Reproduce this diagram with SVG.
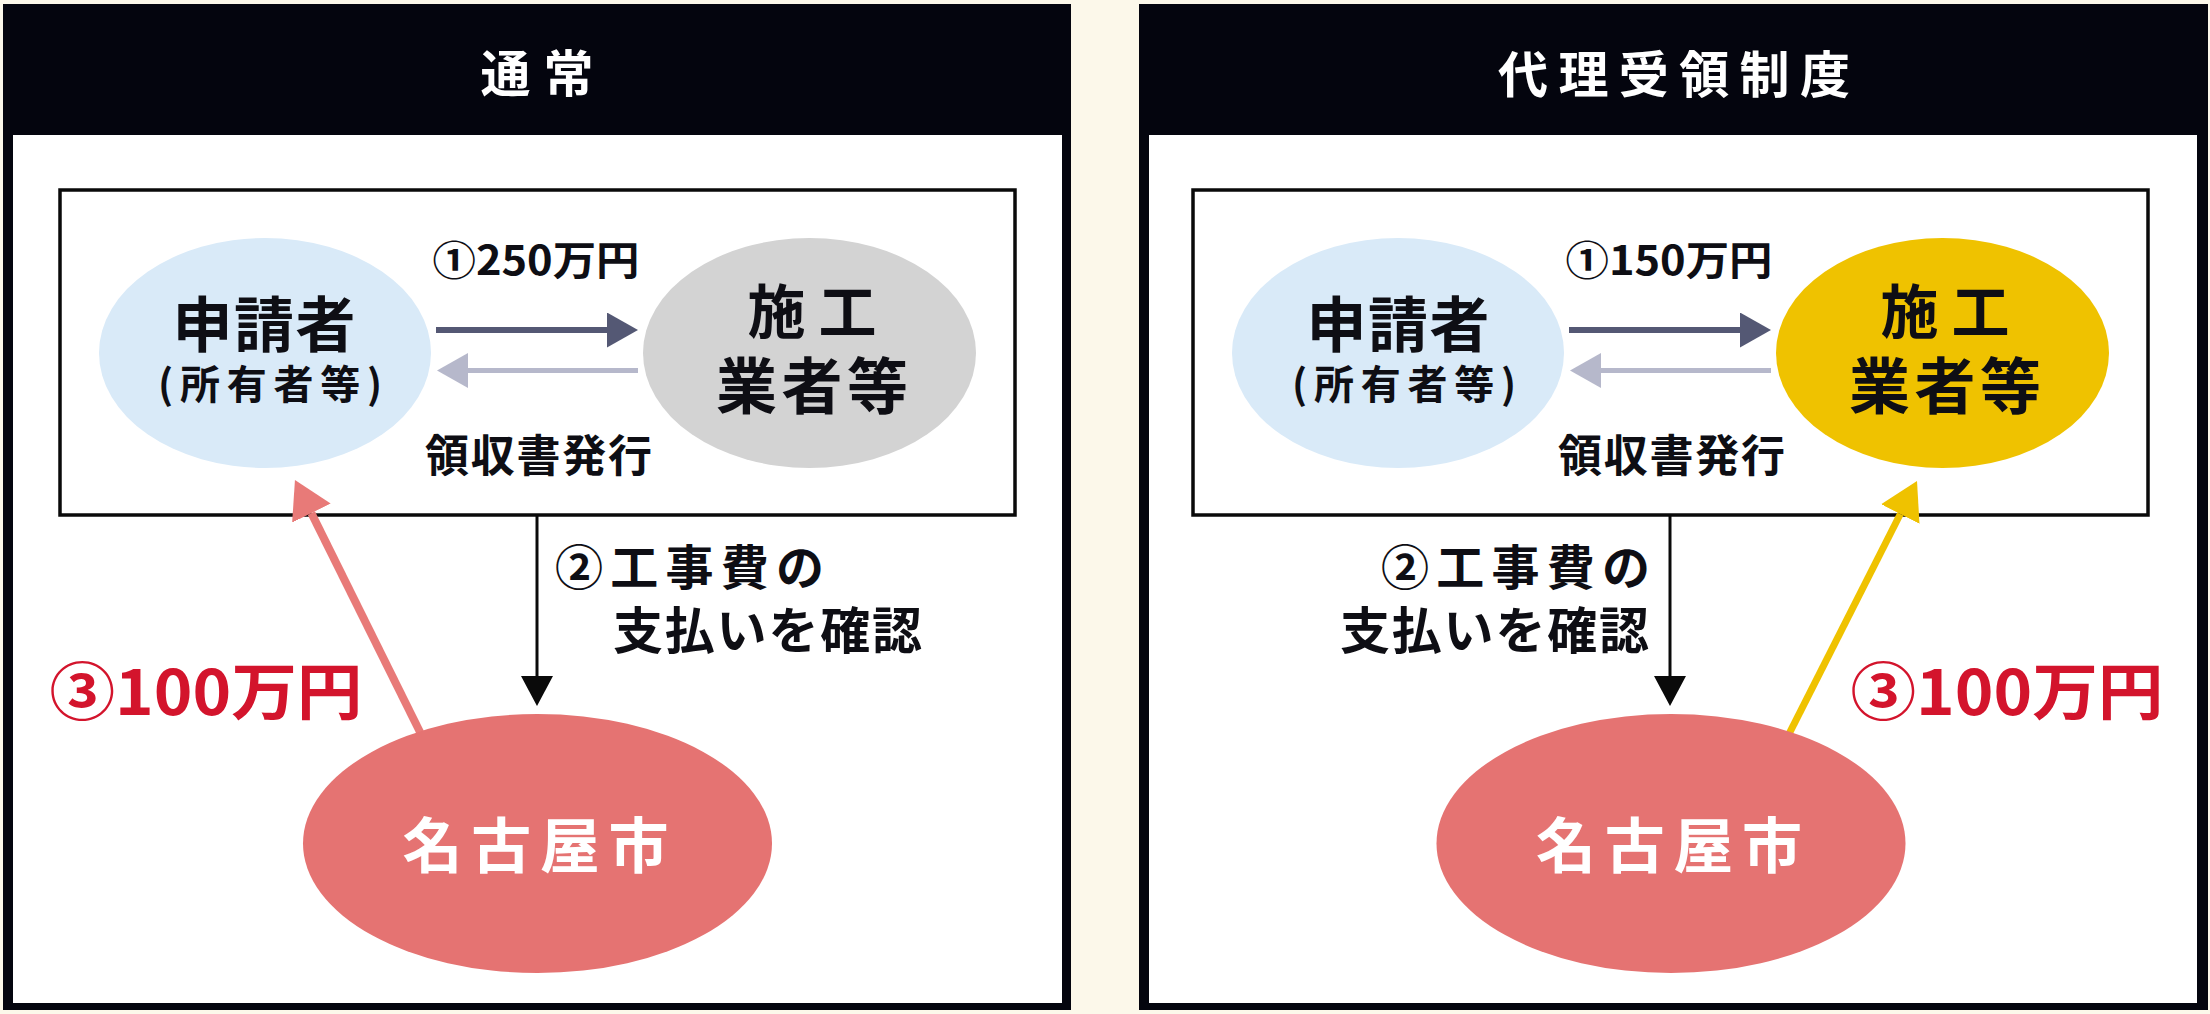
<svg xmlns="http://www.w3.org/2000/svg" width="2210" height="1014" viewBox="0 0 2210 1014">
<style>
.t{font-family:"Noto Sans CJK JP","Noto Sans CJK SC",sans-serif;font-weight:700;text-anchor:middle}
.ink{fill:#0e0e14}
.wt{fill:#ffffff}
.red{fill:#d3142c}
.frame{fill:#04050e}
.inner{fill:#ffffff}
.box{fill:none;stroke:#0a0a0a;stroke-width:3.5}
.applicant{fill:#d9eaf8}
.contractor-gray{fill:#d3d3d3}
.contractor-yellow{fill:#efc200}
.city{fill:#e57372}
.c-dark{stroke:#545874;stroke-width:6;fill:none}
.c-light{stroke:#b6b8cb;stroke-width:5;fill:none}
.c-black{stroke:#0a0a0a;stroke-width:3;fill:none}
.c-pink{stroke:#e87a78;stroke-width:8;fill:none}
.c-yellow{stroke:#efc200;stroke-width:7;fill:none}
</style>
<defs>
<marker id="m-dark" markerUnits="userSpaceOnUse" orient="auto" markerWidth="31" markerHeight="35" viewBox="0 0 31 35" refX="0" refY="17.5"><path d="M0,0 L31,17.5 L0,35 z" fill="#545874"/></marker>
<marker id="m-light" markerUnits="userSpaceOnUse" orient="auto" markerWidth="31" markerHeight="35" viewBox="0 0 31 35" refX="0" refY="17.5"><path d="M0,0 L31,17.5 L0,35 z" fill="#b6b8cb"/></marker>
<marker id="m-black" markerUnits="userSpaceOnUse" orient="auto" markerWidth="30" markerHeight="32" viewBox="0 0 30 32" refX="0" refY="16"><path d="M0,0 L30,16 L0,32 z" fill="#0a0a0a"/></marker>
<marker id="m-pink" markerUnits="userSpaceOnUse" orient="auto" markerWidth="37" markerHeight="43" viewBox="0 0 37 43" refX="0" refY="21.5"><path d="M0,0 L37,21.5 L0,43 z" fill="#e87a78"/></marker>
<marker id="m-yellow" markerUnits="userSpaceOnUse" orient="auto" markerWidth="37" markerHeight="43" viewBox="0 0 37 43" refX="0" refY="21.5"><path d="M0,0 L37,21.5 L0,43 z" fill="#efc200"/></marker>
</defs>
<rect x="0" y="0" width="2210" height="1014" fill="#fcf8ea"/>
<g id="panels">
<g id="panel-normal">
<rect class="frame" x="3" y="4" width="1068" height="1006"/>
<rect class="inner" x="13" y="135" width="1049" height="868"/>
<text class="t wt" x="537" y="92" font-size="50" textLength="113" lengthAdjust="spacing">通常</text>
<rect class="box" x="60" y="190" width="955" height="325"/>
</g>
<g id="panel-proxy">
<rect class="frame" x="1139" y="4" width="1069" height="1006"/>
<rect class="inner" x="1149" y="135" width="1048" height="868"/>
<text class="t wt" x="1674" y="93" font-size="50" textLength="352" lengthAdjust="spacing">代理受領制度</text>
<rect class="box" x="1193" y="190" width="955" height="325"/>
</g>
</g>
<g id="connectors">
<path class="c-dark" d="M436,330 L607,330" marker-end="url(#m-dark)"/>
<path class="c-light" d="M638,370.5 L468,370.5" marker-end="url(#m-light)"/>
<path class="c-black" d="M537,515 L537,676" marker-end="url(#m-black)"/>
<path class="c-pink" d="M422.6,737.2 L311.4,513.1" marker-end="url(#m-pink)"/>
<path class="c-dark" d="M1569,330 L1740,330" marker-end="url(#m-dark)"/>
<path class="c-light" d="M1771,370.5 L1601,370.5" marker-end="url(#m-light)"/>
<path class="c-black" d="M1670,515 L1670,676" marker-end="url(#m-black)"/>
<path class="c-yellow" d="M1787.4,737.1 L1900.3,514" marker-end="url(#m-yellow)"/>
</g>
<g id="connector-labels">
<text class="t ink" x="536" y="275" font-size="40" textLength="207" lengthAdjust="spacingAndGlyphs">①250万円</text>
<text class="t ink" x="538.5" y="472" font-size="44" textLength="227" lengthAdjust="spacing">領収書発行</text>
<text class="t ink" x="689.5" y="585" font-size="48" textLength="269" lengthAdjust="spacing">②工事費の</text>
<text class="t ink" x="767.5" y="649" font-size="50" textLength="309" lengthAdjust="spacing">支払いを確認</text>
<text class="t red" x="206" y="715" font-size="62" textLength="313" lengthAdjust="spacingAndGlyphs">③100万円</text>
<text class="t ink" x="1669" y="275" font-size="40" textLength="207" lengthAdjust="spacingAndGlyphs">①150万円</text>
<text class="t ink" x="1671.5" y="472" font-size="44" textLength="227" lengthAdjust="spacing">領収書発行</text>
<text class="t ink" x="1515.5" y="585" font-size="48" textLength="269" lengthAdjust="spacing">②工事費の</text>
<text class="t ink" x="1494.5" y="649" font-size="50" textLength="309" lengthAdjust="spacing">支払いを確認</text>
<text class="t red" x="2007" y="715" font-size="62" textLength="313" lengthAdjust="spacingAndGlyphs">③100万円</text>
</g>
<g id="node-applicant-normal">
<ellipse class="applicant" cx="265" cy="353" rx="166" ry="115"/>
<text class="t ink" x="264" y="347" font-size="60" textLength="183" lengthAdjust="spacing">申請者</text>
<text class="t ink" x="270" y="399" font-size="40" textLength="224" lengthAdjust="spacing">(所有者等)</text>
</g>
<g id="node-contractor-normal">
<ellipse class="contractor-gray" cx="809.5" cy="353" rx="166.5" ry="115"/>
<text class="t ink" x="812" y="333" font-size="58" textLength="129" lengthAdjust="spacing">施工</text>
<text class="t ink" x="812" y="409" font-size="61" textLength="192" lengthAdjust="spacing">業者等</text>
</g>
<g id="node-city-normal">
<ellipse class="city" cx="537.5" cy="843.5" rx="234.5" ry="129.5"/>
<text class="t wt" x="535.5" y="868" font-size="60" textLength="266" lengthAdjust="spacing">名古屋市</text>
</g>
<g id="node-applicant-proxy">
<ellipse class="applicant" cx="1398" cy="353" rx="166" ry="115"/>
<text class="t ink" x="1398" y="347" font-size="60" textLength="183" lengthAdjust="spacing">申請者</text>
<text class="t ink" x="1404" y="399" font-size="40" textLength="224" lengthAdjust="spacing">(所有者等)</text>
</g>
<g id="node-contractor-proxy">
<ellipse class="contractor-yellow" cx="1942.5" cy="353" rx="166.5" ry="115"/>
<text class="t ink" x="1945" y="333" font-size="58" textLength="129" lengthAdjust="spacing">施工</text>
<text class="t ink" x="1945" y="409" font-size="61" textLength="192" lengthAdjust="spacing">業者等</text>
</g>
<g id="node-city-proxy">
<ellipse class="city" cx="1671" cy="843.5" rx="234.5" ry="129.5"/>
<text class="t wt" x="1669" y="868" font-size="60" textLength="266" lengthAdjust="spacing">名古屋市</text>
</g>
</svg>
